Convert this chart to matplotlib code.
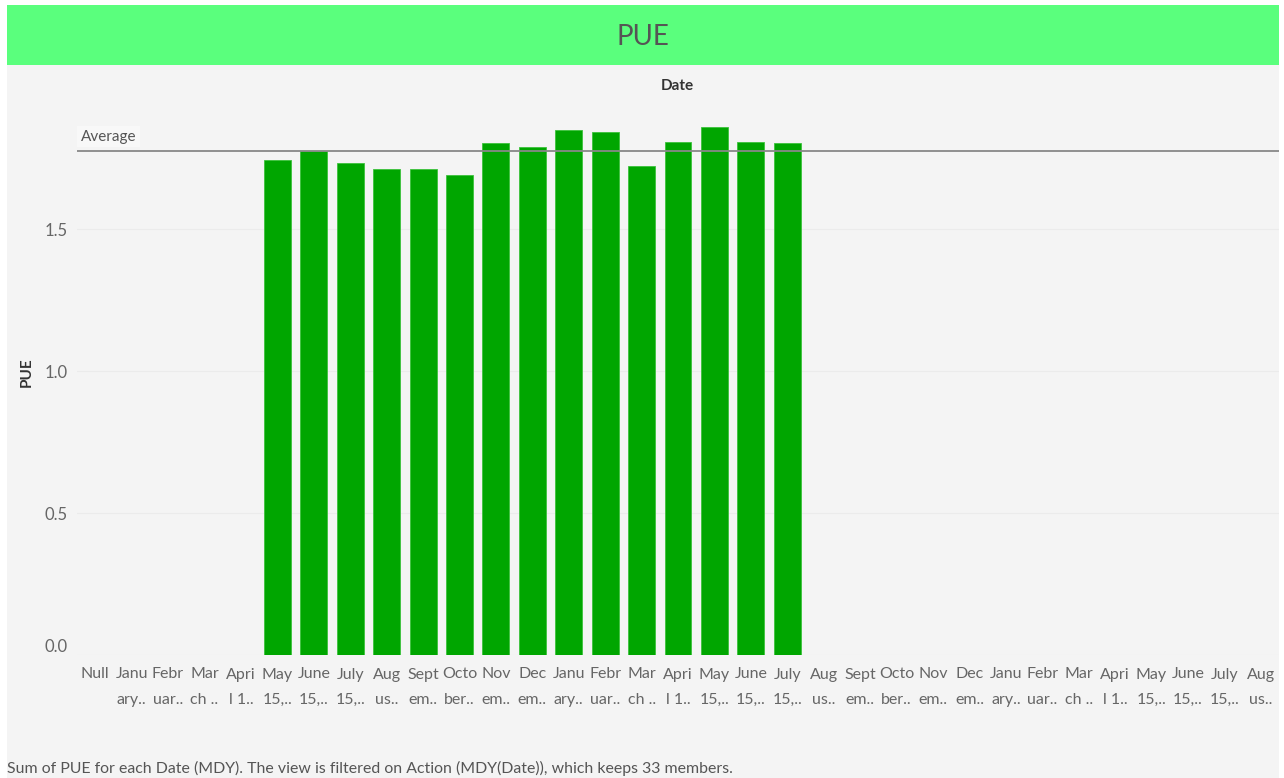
import numpy as np
import matplotlib
matplotlib.use("Agg")
import matplotlib.pyplot as plt
from matplotlib.patches import Rectangle

# categories (Date, MDY) as shown on the axis, two lines each
tick_top = ["Null", "Janu", "Febr", "Mar", "Apri", "May", "June", "July", "Aug",
            "Sept", "Octo", "Nov", "Dec", "Janu", "Febr", "Mar", "Apri", "May",
            "June", "July", "Aug", "Sept", "Octo", "Nov", "Dec", "Janu", "Febr",
            "Mar", "Apri", "May", "June", "July", "Aug"]
tick_bottom = ["", "ary..", "uar..", "ch ..", "l 1..", "15,..", "15,..", "15,..", "us..",
               "em..", "ber..", "em..", "em..", "ary..", "uar..", "ch ..", "l 1..", "15,..",
               "15,..", "15,..", "us..", "em..", "ber..", "em..", "em..", "ary..", "uar..",
               "ch ..", "l 1..", "15,..", "15,..", "15,..", "us.."]

# PUE values, only May (first) .. July (following year) have data
first_bar = 5
pue_values = [1.743, 1.775, 1.732, 1.711, 1.711, 1.690, 1.802, 1.791,
              1.849, 1.844, 1.722, 1.806, 1.860, 1.806, 1.802]

W, H = 1284, 778
plt.rcParams['font.family'] = ['Lato', 'DejaVu Sans']

fig = plt.figure(figsize=(W / 100, H / 100), dpi=100, facecolor='white')

# background panel and title band
fig.patches.append(Rectangle((7 / W, 0), 1272 / W, 1 - 5 / H, transform=fig.transFigure,
                             facecolor='#f4f4f4', edgecolor='none', zorder=-2))
fig.patches.append(Rectangle((7 / W, 1 - 65 / H), 1272 / W, 60 / H, transform=fig.transFigure,
                             facecolor='#5aff7d', edgecolor='none', zorder=-1))
fig.text(643 / W, 1 - 37 / H, "PUE", ha='center', va='center', fontsize=20,
         color='#555555')

ax = fig.add_axes([77 / W, 1 - 655 / H, (1279 - 77) / W, (655 - 100) / H])
ax.set_facecolor('#f4f4f4')
for s in ax.spines.values():
    s.set_visible(False)

n = len(tick_top)
x = np.arange(n)
vals = np.full(n, np.nan)
vals[first_bar:first_bar + len(pue_values)] = pue_values

ax.bar(x, vals, width=0.74, color='#00a600', edgecolor='#3cc23c', linewidth=0.6, zorder=2)

avg = np.mean(pue_values)
ax.axhline(avg, color='#888888', linewidth=1.3, zorder=3)
ax.text(0.003, avg + 0.025, "Average", transform=ax.get_yaxis_transform(),
        ha='left', va='bottom', fontsize=11, color='#555555', zorder=4,
        bbox=dict(facecolor='#f8f8f8', edgecolor='none', pad=2.5))

ax.set_xlim(-0.5, n - 0.5)
ax.set_ylim(0, 1.955)
ax.set_yticks([0.0, 0.5, 1.0, 1.5])
ax.set_yticklabels(["0.0", "0.5", "1.0", "1.5"])
ax.yaxis.grid(True, color='#ebebeb', linewidth=0.8, zorder=0)
ax.set_axisbelow(True)
ax.tick_params(axis='y', length=0, pad=7, labelsize=12, labelcolor='#666666')
ax.get_yticklabels()[0].set_va('bottom')

ax.set_xticks(x)
ax.set_xticklabels([a + "\n" + b for a, b in zip(tick_top, tick_bottom)],
                   linespacing=2.05, va='top')
ax.tick_params(axis='x', length=0, pad=9, labelsize=11.5, labelcolor='#666666')

fig.text(27 / W, 1 - 372 / H, "PUE", rotation=90, ha='center', va='center',
         fontsize=11, fontweight='bold', color='#333333')
fig.text(677 / W, 1 - 86 / H, "Date", ha='center', va='center',
         fontsize=11, fontweight='bold', color='#333333')

fig.text(7 / W, 1 - 768 / H,
         "Sum of PUE for each Date (MDY). The view is filtered on Action (MDY(Date)), which keeps 33 members.",
         ha='left', va='center', fontsize=11.4, color='#555555')

fig.savefig("out.png", dpi=100, facecolor='white')
